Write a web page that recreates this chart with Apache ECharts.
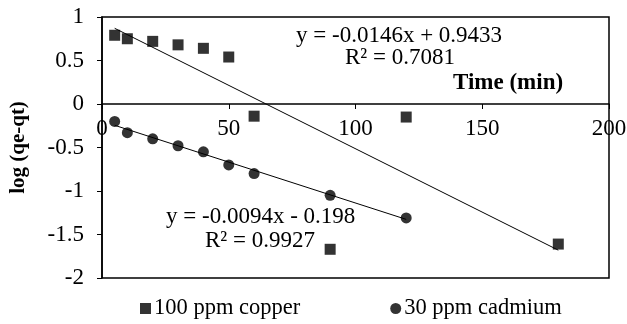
<!DOCTYPE html>
<html>
<head>
<meta charset="utf-8">
<script src="https://cdn.jsdelivr.net/npm/echarts@6/dist/echarts.min.js"></script>
<style>
  html, body { margin: 0; padding: 0; background: #fff; }
  #chart { width: 627px; height: 324px; }
</style>
</head>
<body>
<div id="chart"></div>
<script>
// values
const copperX = [5, 10, 20, 30, 40, 50, 60, 90, 120, 180];
const copperY = [0.79, 0.75, 0.72, 0.68, 0.64, 0.54, -0.14, -1.67, -0.15, -1.61];
const cadmiumX = [5, 10, 20, 30, 40, 50, 60, 90, 120];
const cadmiumY = [-0.20, -0.33, -0.40, -0.48, -0.55, -0.70, -0.80, -1.05, -1.31];
// trendline end points (Excel linear fit, drawn across the data range)
const copperFit = [[5, 0.87], [180, -1.68]];
const cadmiumFit = [[5, -0.245], [120, -1.326]];
const xTicks = [0, 50, 100, 150, 200];
const yTicks = [-2, -1.5, -1, -0.5, 0, 0.5, 1];

const FONT = 'Liberation Serif';
const zip = (xs, ys) => xs.map((x, i) => [x, ys[i]]);

const GRID = { left: 102, right: 18, top: 17, bottom: 46 };
const plotH = 324 - GRID.top - GRID.bottom;
const yMin = yTicks[0], yMax = yTicks[yTicks.length - 1];
// x axis sits on y = 0 (labels too), so lift it up from the bottom edge
const xAxisLift = plotH * (0 - yMin) / (yMax - yMin);

const chart = echarts.init(document.getElementById('chart'));

chart.setOption({
  animation: false,
  backgroundColor: '#fff',
  textStyle: { fontFamily: FONT, color: '#000' },
  grid: Object.assign({
    show: true, borderColor: '#000', borderWidth: 1.5,
    containLabel: false, outerBoundsMode: 'none'
  }, GRID),
  xAxis: {
    type: 'value', min: xTicks[0], max: xTicks[xTicks.length - 1], interval: 50,
    offset: -xAxisLift,
    axisLine: { onZero: false, lineStyle: { color: '#000', width: 1.5 } },
    axisTick: { show: true, length: 5, lineStyle: { color: '#000' } },
    axisLabel: { fontFamily: FONT, fontSize: 23, color: '#000', margin: 13 },
    splitLine: { show: false }
  },
  yAxis: {
    type: 'value', min: yMin, max: yMax, interval: 0.5,
    name: 'log (qe-qt)', nameLocation: 'middle', nameRotate: 90, nameGap: 73,
    nameTextStyle: { fontFamily: FONT, fontSize: 21, fontWeight: 'bold', color: '#000' },
    axisLine: { show: true, lineStyle: { color: '#000', width: 1.5 } },
    axisTick: { show: true, length: 5, lineStyle: { color: '#000' } },
    axisLabel: { fontFamily: FONT, fontSize: 23, color: '#000', margin: 18 },
    splitLine: { show: false }
  },
  legend: {
    data: [
      { name: '100 ppm copper', icon: 'rect' },
      { name: '30 ppm cadmium', icon: 'circle' }
    ],
    left: 135, top: 292, itemGap: 90, itemWidth: 11, itemHeight: 11,
    textStyle: { fontFamily: FONT, fontSize: 22.5, color: '#000', padding: [0, 0, 0, -2] }
  },
  graphic: [
    { type: 'text', left: 296, top: 24, style: { text: 'y = -0.0146x + 0.9433', font: '23px "Liberation Serif"', fill: '#000' } },
    { type: 'text', left: 345, top: 46, style: { text: 'R² = 0.7081', font: '23px "Liberation Serif"', fill: '#000' } },
    { type: 'text', left: 453, top: 72, style: { text: 'Time (min)', font: 'bold 23px "Liberation Serif"', fill: '#000' } },
    { type: 'text', left: 166, top: 205, style: { text: 'y = -0.0094x - 0.198', font: '23px "Liberation Serif"', fill: '#000' } },
    { type: 'text', left: 205, top: 229, style: { text: 'R² = 0.9927', font: '23px "Liberation Serif"', fill: '#000' } }
  ],
  series: [
    {
      name: 'copper fit', type: 'line', data: copperFit, showSymbol: false, silent: true,
      lineStyle: { color: '#000', width: 1 }, z: 1
    },
    {
      name: 'cadmium fit', type: 'line', data: cadmiumFit, showSymbol: false, silent: true,
      lineStyle: { color: '#000', width: 1 }, z: 1
    },
    {
      name: '100 ppm copper', type: 'scatter', data: zip(copperX, copperY),
      symbol: 'rect', symbolSize: 11, itemStyle: { color: '#000' }, z: 3
    },
    {
      name: '30 ppm cadmium', type: 'scatter', data: zip(cadmiumX, cadmiumY),
      symbol: 'circle', symbolSize: 11, itemStyle: { color: '#000' }, z: 3
    }
  ]
});
</script>
</body>
</html>
